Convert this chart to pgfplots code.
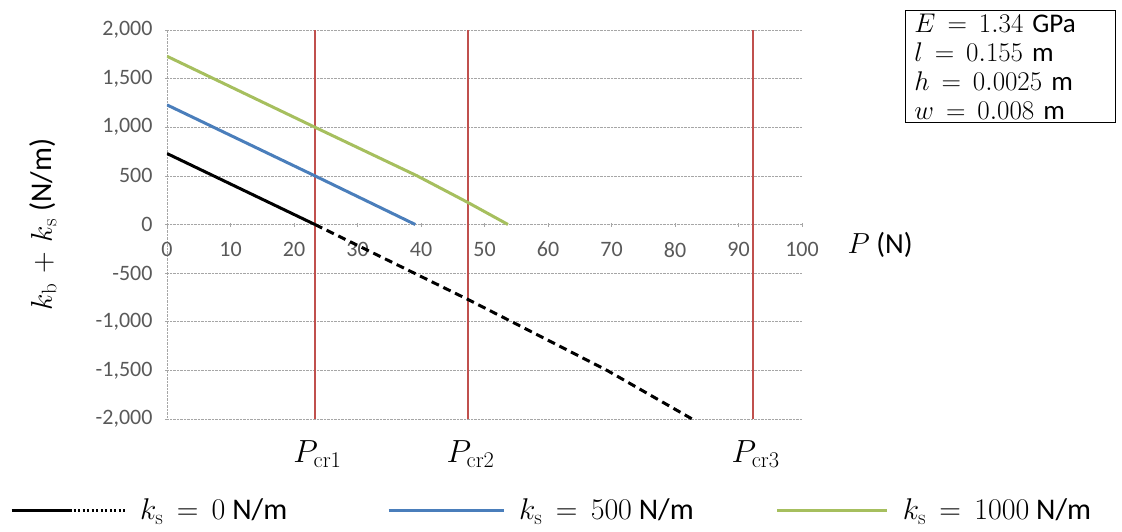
\RequirePackage{fix-cm}
\documentclass[border=0pt]{standalone}
\usepackage[no-math]{fontspec}
\setmainfont{Carlito}
\usepackage{pgfplots}
\pgfplotsset{compat=1.18}
\usetikzlibrary{calc}

\definecolor{exblue}{HTML}{4A7EBB}
\definecolor{exgreen}{HTML}{A6BF5E}
\definecolor{exred}{HTML}{C0504D}
\definecolor{ticktxt}{HTML}{595959}

% wider math spacing, closer to Cambria Math
\thickmuskip=8mu plus 2mu
\medmuskip=6mu plus 2mu

\begin{document}
\begin{tikzpicture}
\begin{axis}[
  name=ax,
  scale only axis,
  clip mode=individual,
  width=635pt, height=389pt,
  xmin=0, xmax=100, ymin=-2000, ymax=2000,
  xtick={0,10,...,100},
  ytick={-2000,-1500,...,2000},
  axis x line=middle, axis y line=left,
  hide obscured x ticks=false, hide obscured y ticks=false,
  axis line style={gray!70, densely dotted, -},
  ymajorgrids,
  grid style={gray!70, densely dotted, line width=0.6pt},
  tick style={gray!70, line width=0.6pt},
  major tick length=4pt,
  ticklabel style={font=\fontsize{22}{24}\selectfont, text=ticktxt},
  xticklabel style={yshift=-12pt},
  yticklabel style={xshift=-9pt},
  /pgf/number format/.cd, 1000 sep={,}, assume math mode=true,
  /pgfplots/.cd,
  ylabel={\fontsize{30}{32}\selectfont $k_{\mathrm{b}}+k_{\mathrm{s}}$ (N/m)},
  ylabel style={at={(axis description cs:-0.195,0.5)}, anchor=center, rotate=0},
  legend columns=3,
  legend style={at={(axis description cs:-0.252,-0.234)}, anchor=west,
    draw=none, fill=none, font=\fontsize{30}{32}\selectfont,
    /tikz/every even column/.append style={column sep=0pt},
    /tikz/every odd column/.append style={column sep=12pt}},
]
% critical loads
\addplot[exred, line width=2.5pt, forget plot] coordinates {(23.3,-2000) (23.3,2000)};
\addplot[exred, line width=2.5pt, forget plot] coordinates {(47.4,-2000) (47.4,2000)};
\addplot[exred, line width=2.5pt, forget plot] coordinates {(92.3,-2000) (92.3,2000)};

% k_s = 0
\addplot[black, line width=3pt,
  legend image code/.code={
    \draw[black, line width=3pt] (0pt,0pt) -- (60pt,0pt);
    \draw[black, line width=3pt, dash pattern=on 2pt off 2.5pt] (62pt,0pt) -- (113pt,0pt);}]
  coordinates {(0,730) (23.3,0)};
\addlegendentry{$k_{\mathrm{s}}=0$ N/m\hspace*{98pt}}
\addplot[black, line width=3pt, dash pattern=on 8pt off 5pt, forget plot]
  coordinates {(23.3,0) (47.4,-771) (54.3,-1000) (69.3,-1500) (82.7,-2000)};

% k_s = 500
\addplot[exblue, line width=3pt,
  legend image code/.code={\draw[exblue, line width=3pt] (0pt,0pt) -- (115pt,0pt);}]
  coordinates {(0,1230) (23.3,500) (39.1,0)};
\addlegendentry{$k_{\mathrm{s}}=500$ N/m\hspace*{80pt}}

% k_s = 1000
\addplot[exgreen, line width=3pt,
  legend image code/.code={\draw[exgreen, line width=3pt] (0pt,0pt) -- (110pt,0pt);}]
  coordinates {(0,1730) (23.3,1000) (39.4,500) (47.4,226) (53.7,0)};
\addlegendentry{$k_{\mathrm{s}}=1000$ N/m}

% labels
\node[font=\fontsize{29}{31}\selectfont] at (axis description cs:1.123,0.447) {$P$ (N)};
\node[font=\fontsize{32}{34}\selectfont, anchor=north] at (axis cs:23.7,-2000) [yshift=-18pt] {$P_{\mathrm{cr1}}$};
\node[font=\fontsize{32}{34}\selectfont, anchor=north] at (axis cs:47.8,-2000) [yshift=-18pt] {$P_{\mathrm{cr2}}$};
\node[font=\fontsize{32}{34}\selectfont, anchor=north] at (axis cs:92.7,-2000) [yshift=-18pt] {$P_{\mathrm{cr3}}$};

\node[draw, line width=1pt, anchor=north west, align=left,
  font=\fontsize{27}{29}\selectfont, text width=192pt, inner xsep=9pt, inner ysep=3pt]
  at (axis description cs:1.162,1.051)
  {$E=1.34$ GPa\\ $l=0.155$ m\\ $h=0.0025$ m\\ $w=0.008$ m};
\end{axis}
\path[use as bounding box] ($(ax.south west)+(-167pt,-112pt)$) rectangle ($(ax.south west)+(955pt,419pt)$);
\end{tikzpicture}
\end{document}
